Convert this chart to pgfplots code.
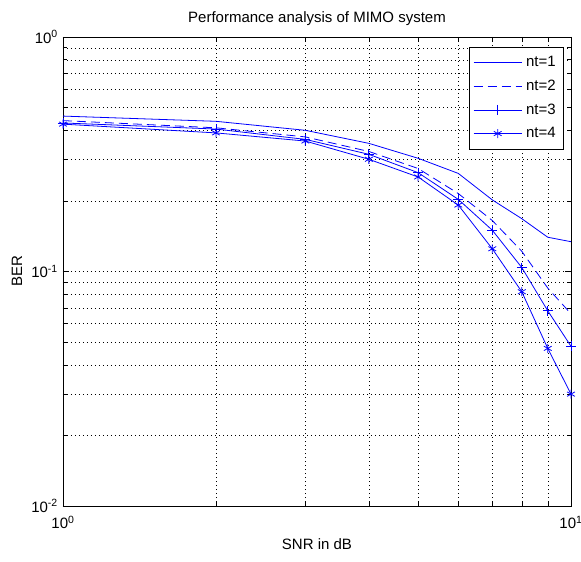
\documentclass[border=0pt]{standalone}
\usepackage{fontspec}
\setmainfont{Liberation Sans}
\usepackage{pgfplots}
\pgfplotsset{compat=1.18}

\begin{document}
\fontsize{15bp}{18bp}\selectfont
\begin{tikzpicture}
\useasboundingbox (-63bp,-56bp) rectangle (518bp,506bp);
\begin{loglogaxis}[
  scale only axis, width=508bp, height=469bp,
  at={(0,0)}, anchor=south west,
  xmin=1, xmax=10, ymin=0.01, ymax=1,
  xtick={1,10},
  xticklabels={10\textsuperscript{0},10\textsuperscript{1}},
  ytick={0.01,0.1,1},
  yticklabels={10\textsuperscript{-2},10\textsuperscript{-1},10\textsuperscript{0}},
  xticklabel style={yshift=-5bp},
  minor xtick={2,3,4,5,6,7,8,9},
  minor ytick={0.02,0.03,0.04,0.05,0.06,0.07,0.08,0.09,0.2,0.3,0.4,0.5,0.6,0.7,0.8,0.9},
  grid=both,
  major grid style={black, dash pattern=on 0.8bp off 3.2bp},
  minor grid style={black, dash pattern=on 0.8bp off 3.2bp},
  tick align=inside,
  major tick length=6bp, minor tick length=4bp,
  tick style={black, line width=0.5bp},
  axis line style={black, line width=0.6bp},
  title={Performance analysis of MIMO system},
  xlabel={SNR in dB}, ylabel={BER},
  ylabel shift=-1bp,
  legend style={at={(1,1)}, anchor=north east, xshift=-7bp, yshift=-10bp,
    draw=black, line width=0.6bp, row sep=7bp, inner xsep=4bp, inner ysep=7bp,
    nodes={inner xsep=4bp}},
  legend cell align=left,
  legend image code/.code={\draw[mark repeat=2,mark phase=2] plot coordinates {(0bp,0bp) (24bp,0bp) (48bp,0bp)};},
]
\addplot[color=blue, line width=0.8bp, solid] coordinates {
  (1,0.46) (2,0.437) (3,0.40) (4,0.352) (5,0.304) (6,0.262) (7,0.202) (8,0.168) (9,0.14) (10,0.134)};
\addlegendentry{nt=1}
\addplot[color=blue, line width=0.8bp, dash pattern=on 9bp off 5bp] coordinates {
  (1,0.44) (2,0.41) (3,0.375) (4,0.325) (5,0.275) (6,0.215) (7,0.165) (8,0.122) (9,0.085) (10,0.066)};
\addlegendentry{nt=2}
\addplot[color=blue, line width=0.8bp, solid, mark=+, mark size=5bp] coordinates {
  (1,0.43) (2,0.405) (3,0.366) (4,0.316) (5,0.264) (6,0.203) (7,0.150) (8,0.104) (9,0.068) (10,0.048)};
\addlegendentry{nt=3}
\addplot[color=blue, line width=0.8bp, solid, mark=asterisk, mark size=4.5bp] coordinates {
  (1,0.425) (2,0.39) (3,0.36) (4,0.301) (5,0.253) (6,0.192) (7,0.125) (8,0.082) (9,0.047) (10,0.030)};
\addlegendentry{nt=4}
\end{loglogaxis}
\end{tikzpicture}
\end{document}
